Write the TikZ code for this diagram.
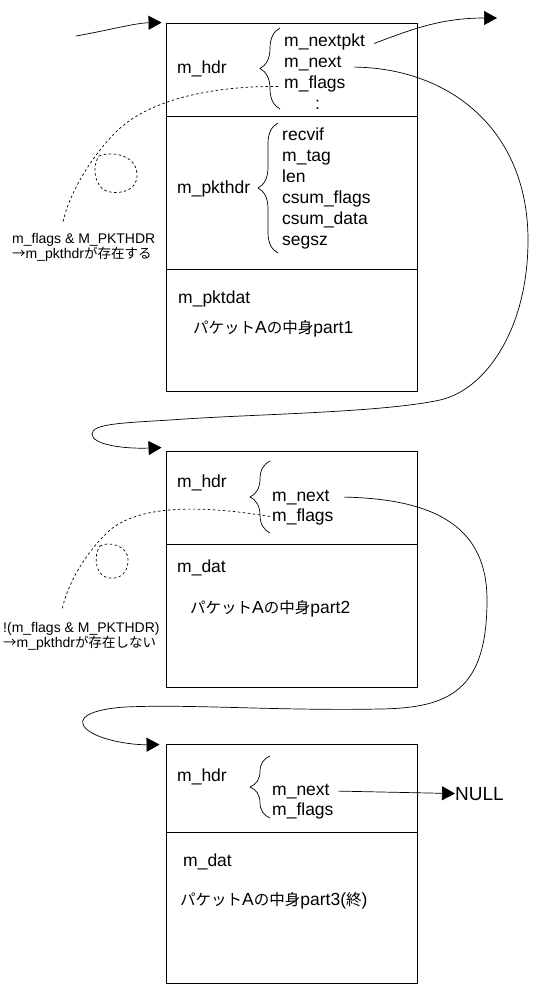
\documentclass[tikz,border=0pt]{standalone}
\usepackage{fontspec}
\setmainfont{Liberation Sans}
\newfontfamily\jpfam{Noto Sans CJK JP}
\usetikzlibrary{arrows.meta,decorations.pathreplacing}
\newcommand\fldfont{\fontsize{17.5}{21}\selectfont}
\newcommand\jpm{\jpfam\fontsize{15.5}{21}\selectfont}
\newcommand\notefont{\fontsize{14}{13.5}\selectfont}
\newcommand\jpn{\jpfam\fontsize{13.5}{13.5}\selectfont}
\begin{document}
\begin{tikzpicture}[x=1pt,y=-1pt,
  box/.style={draw,line width=0.9pt,minimum width=251pt,inner sep=0pt},
  fld/.style={font=\fldfont,inner sep=0pt,anchor=base west},
  note/.style={font=\notefont,inner sep=0pt,anchor=north west,align=left},
  conn/.style={line width=0.7pt,-{Triangle[length=13pt,width=14pt]}},
  dsh/.style={line width=0.7pt,dash pattern=on 2.5pt off 2.5pt},
  brc/.style={decorate,decoration={brace,amplitude=20pt},line width=0.7pt}]
\useasboundingbox[fill=white] (0,0) rectangle (546,1005);

% boxes
\node[box,minimum height=368pt] (b1) at (291.5,207) {};
\node[box,minimum height=236pt] (b2) at (291.5,569) {};
\node[box,minimum height=239pt] (b3) at (291.5,863.5) {};
\draw[line width=0.9pt] (166,116) -- (417,116);
\draw[line width=0.9pt] (166,269) -- (417,269);
\draw[line width=0.9pt] (166,544) -- (417,544);
\draw[line width=0.9pt] (166,832) -- (417,832);

% box 1
\node[fld] (hdr1) at (177,73) {m\_hdr};
\node[fld] (mnextpkt) at (284,46) {m\_nextpkt};
\node[fld] (mnext1) at (284,67) {m\_next};
\node[fld] (mflags1) at (284,88) {m\_flags};
\node[fld] (dots1) at (315,109) {:};
\draw[brc] (280,109) -- (280,28);
\node[fld] (pkthdr) at (177,193) {m\_pkthdr};
\draw[brc] (278,253) -- (278,123);
\node[fld] (recvif) at (282,140) {recvif};
\node[fld] (mtag) at (282,161) {m\_tag};
\node[fld] (len) at (282,182) {len};
\node[fld] (csumf) at (282,203) {csum\_flags};
\node[fld] (csumd) at (282,224) {csum\_data};
\node[fld] (segsz) at (282,245) {segsz};
\node[fld] (pktdat) at (178,303) {m\_pktdat};
\node[fld] (part1) at (193,333) {{\jpm パケット}A{\jpm の中身}part1};

% box 2
\node[fld] (hdr2) at (177,487) {m\_hdr};
\draw[brc] (270,533) -- (270,461);
\node[fld] (mnext2) at (272,501) {m\_next};
\node[fld] (mflags2) at (272,521) {m\_flags};
\node[fld] (dat2) at (177,572) {m\_dat};
\node[fld] (part2) at (190,613) {{\jpm パケット}A{\jpm の中身}part2};

% box 3
\node[fld] (hdr3) at (177,781) {m\_hdr};
\draw[brc] (270,818) -- (270,756);
\node[fld] (mnext3) at (272,795) {m\_next};
\node[fld] (mflags3) at (272,815) {m\_flags};
\node[fld] (dat3) at (183,866) {m\_dat};
\node[fld] (part3) at (180,905) {{\jpm パケット}A{\jpm の中身}part3({\jpm 終})};
\node[fld,font=\fontsize{19}{21}\selectfont] (null) at (455,800) {NULL};

% notes
\node[note] (note1) at (12,233) {m\_flags \& M\_PKTHDR\\{\jpn →}m\_pkthdr{\jpn が存在する}};
\node[note] (note2) at (3,622) {!(m\_flags \& M\_PKTHDR)\\{\jpn →}m\_pkthdr{\jpn が存在しない}};

% free ends
\coordinate (in0) at (76,36);
\coordinate (out0) at (497,18);

% connectors
\draw[conn] (in0) .. controls (110,30) and (135,23) .. ([xshift=-4pt]b1.north west);
\draw[conn] ([xshift=9pt,yshift=-2pt]mnextpkt.east) .. controls (410,30) and (440,18) .. (out0);
\draw[conn] ([xshift=12pt,yshift=-4pt]mnext1.east) .. controls (450,68) and (528,130) .. (528,240)
  .. controls (528,330) and (485,390) .. (440,400)
  .. controls (380,413) and (250,414) .. (170,420)
  .. controls (120,423) and (92,424) .. (92,434)
  .. controls (92,445) and (125,449) .. ([xshift=-4pt,yshift=3pt]b2.north west);
\draw[conn] ([xshift=14pt]mnext2.east) .. controls (440,499) and (487,530) .. (487,600)
  .. controls (487,690) and (450,708) .. (380,709)
  .. controls (280,711) and (190,704) .. (125,707)
  .. controls (95,709) and (80,716) .. (83,724)
  .. controls (87,737) and (125,745) .. ([xshift=-6pt,yshift=-1pt]b3.north west);
\draw[conn] ([xshift=8pt]mnext3.east) -- (null.west);

% dashed
\draw[dsh] ([xshift=-6pt,yshift=-3pt]mflags1.west) .. controls (210,86) and (150,100) .. (118,130)
  .. controls (95,152) and (70,190) .. ([shift={(51,-11)}]note1.north west);
\draw[dsh] (99,156) .. controls (110,151) and (136,154) .. (137,174)
  .. controls (138,190) and (122,194) .. (110,192) .. controls (93,189) and (92,165) .. (99,156);
\draw[dsh] ([xshift=-2pt]mflags2.west) .. controls (200,505) and (140,505) .. (110,530)
  .. controls (90,548) and (68,580) .. ([shift={(59,-12)}]note2.north west);
\draw[dsh] (100,546) .. controls (108,541) and (128,545) .. (128,560)
  .. controls (128,575) and (118,579) .. (110,578) .. controls (95,577) and (93,556) .. (100,546);
\end{tikzpicture}
\end{document}
